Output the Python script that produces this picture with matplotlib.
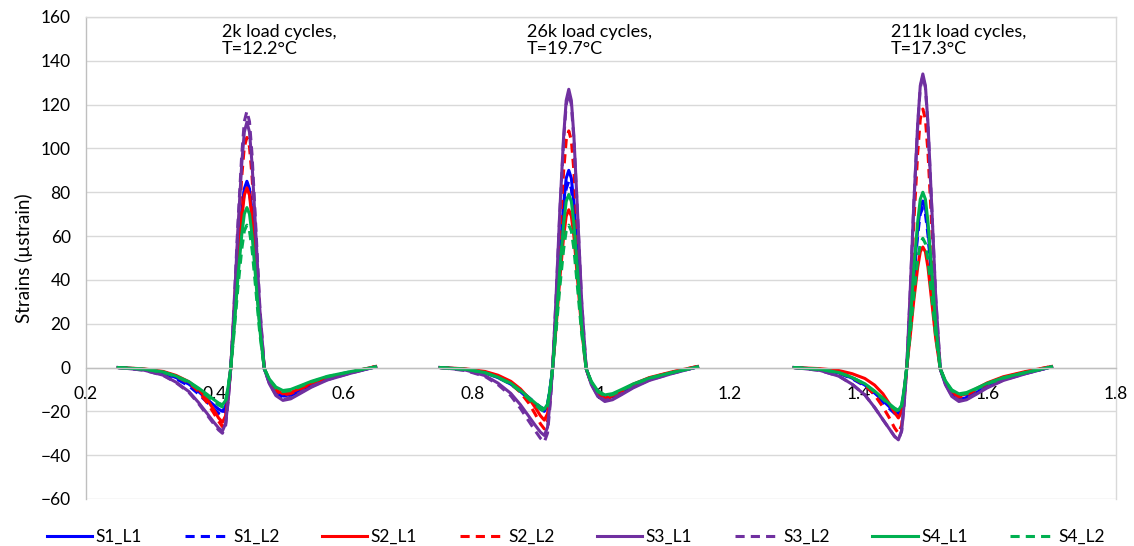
import numpy as np
import matplotlib
matplotlib.use("Agg")
import matplotlib.pyplot as plt

plt.rcParams['font.family'] = ['Lato', 'DejaVu Sans']

# time offsets (s) around each wheel pass, shared by all gauges
t_rel = [-0.200, -0.160, -0.130, -0.110, -0.090, -0.075, -0.062, -0.052,
         -0.044, -0.038, -0.033, -0.029, -0.025, -0.020, -0.014, -0.008,
         -0.004, 0.000, 0.004, 0.008, 0.014, 0.020, 0.027, 0.035,
         0.045, 0.056, 0.068, 0.082, 0.100, 0.125, 0.160, 0.200]

# time of peak for each recorded pass
pass_times = [0.45, 0.95, 1.50]
pass_labels = ["2k load cycles,\nT=12.2°C", "26k load cycles,\nT=19.7°C",
               "211k load cycles,\nT=17.3°C"]
label_x = [0.411, 0.885, 1.450]

series = ["S1_L1", "S1_L2", "S2_L1", "S2_L2", "S3_L1", "S3_L2", "S4_L1", "S4_L2"]

# strains (microstrain) after 2k cycles
strain_2k = {
    "S1_L1": [0, -0.8, -2.4, -4.6, -7.6, -11, -14.4, -17, -19, -20, -17.6, -10, 0, 20.4, 47.6, 70.6, 81.6, 85, 81.6, 70.6, 45.9, 20.4, -0.5, -6.5, -11, -13, -12.4, -10.4, -7.8, -4.9, -2.3, 0.3],
    "S1_L2": [0, -0.9, -2.6, -5.1, -8.4, -12.1, -15.8, -18.7, -20.9, -22, -19.4, -11, 0, 20.2, 47, 69.7, 80.6, 84, 80.6, 69.7, 45.4, 20.2, -0.5, -6.8, -11.5, -13.5, -12.8, -10.8, -8.1, -5.1, -2.4, 0.3],
    "S2_L1": [0, -0.6, -1.8, -3.6, -6.5, -10, -14.5, -19, -23, -25, -22, -12.5, 0, 19.7, 45.9, 68.1, 78.7, 82, 78.7, 68.1, 44.3, 19.7, -0.5, -6, -10.2, -12, -11.4, -9.6, -7.2, -4.6, -2.2, 0.5],
    "S2_L2": [0, -0.7, -2, -4, -7, -11, -16, -20.5, -24.5, -27, -23.8, -13.5, 0, 25.2, 58.8, 87.2, 100.8, 105, 100.8, 87.2, 56.7, 25.2, -0.5, -6.3, -10.6, -12.5, -11.9, -10, -7.5, -4.8, -2.3, 0.5],
    "S3_L1": [0, -1.2, -3.5, -6.7, -11, -16, -20.9, -24.7, -27.6, -29, -25.5, -14.5, 0, 26.9, 62.7, 93, 107.5, 112, 107.5, 93, 60.5, 26.9, -0.5, -7.5, -12.8, -15, -14.3, -12, -9, -5.7, -2.7, 0.3],
    "S3_L2": [0, -1.2, -3.6, -6.9, -11.4, -16.5, -21.6, -25.5, -28.5, -30, -26.4, -15, 0, 28.1, 65.5, 97.1, 112.3, 117, 112.3, 97.1, 63.2, 28.1, -0.5, -7.3, -12.3, -14.5, -13.8, -11.6, -8.7, -5.5, -2.6, 0.3],
    "S4_L1": [0, -0.7, -2, -3.9, -6.5, -9.4, -12.2, -14.5, -16.2, -17, -15, -8.5, 0, 17.5, 40.9, 60.6, 70.1, 73, 70.1, 60.6, 39.4, 17.5, -0.5, -5.3, -8.9, -10.5, -10, -8.4, -6.3, -4, -1.9, 0.3],
    "S4_L2": [0, -0.7, -2.2, -4.1, -6.8, -9.9, -13, -15.3, -17.1, -18, -15.8, -9, 0, 15.6, 36.4, 54, 62.4, 65, 62.4, 54, 35.1, 15.6, -0.5, -5.5, -9.4, -11, -10.5, -8.8, -6.6, -4.2, -2, 0.3],
}

# strains after 26k cycles
strain_26k = {
    "S1_L1": [0, -0.8, -2.4, -4.6, -7.6, -11, -14.4, -17, -19, -20, -17.6, -10, 0, 21.6, 50.4, 74.7, 86.4, 90, 86.4, 74.7, 48.6, 21.6, -0.5, -7, -11.9, -14, -13.3, -11.2, -8.4, -5.3, -2.5, 0.3],
    "S1_L2": [0, -0.8, -2.3, -4.4, -7.2, -10.5, -13.7, -16.2, -18, -19, -16.7, -9.5, 0, 20.4, 47.6, 70.6, 81.6, 85, 81.6, 70.6, 45.9, 20.4, -0.5, -7, -11.9, -14, -13.3, -11.2, -8.4, -5.3, -2.5, 0.3],
    "S2_L1": [0, -0.6, -1.8, -3.5, -6.3, -9.8, -14, -18.3, -22, -24, -21.1, -12, 0, 17.3, 40.3, 59.8, 69.1, 72, 69.1, 59.8, 38.9, 17.3, -0.5, -7, -11.9, -14, -13, -10.5, -7.6, -4.6, -2, 0.5],
    "S2_L2": [0, -0.7, -2.1, -4.1, -7.3, -11.4, -16.3, -21.3, -25.7, -28, -24.6, -14, 0, 25.9, 60.5, 89.6, 103.7, 108, 103.7, 89.6, 58.3, 25.9, -0.5, -7.3, -12.3, -14.5, -13.5, -11, -7.9, -4.8, -2.1, 0.5],
    "S3_L1": [0, -1.2, -3.7, -7.1, -11.8, -17, -22.3, -26.4, -29.5, -31, -27.3, -15.5, 0, 30.5, 71.1, 105.4, 121.9, 127, 121.9, 105.4, 68.6, 30.5, -0.5, -7.8, -13.2, -15.5, -14.7, -12.4, -9.3, -5.9, -2.8, 0.3],
    "S3_L2": [0, -1.4, -4.1, -7.8, -12.9, -18.7, -24.5, -28.9, -32.3, -34, -29.9, -17, 0, 30, 70, 103.8, 120, 125, 120, 103.8, 67.5, 30, -0.5, -7.5, -12.8, -15, -14.3, -12, -9, -5.7, -2.7, 0.3],
    "S4_L1": [0, -0.8, -2.3, -4.4, -7.2, -10.5, -13.7, -16.2, -18, -19, -16.7, -9.5, 0, 19, 44.2, 65.6, 75.8, 79, 75.8, 65.6, 42.7, 19, -0.5, -6.3, -10.6, -12.5, -11.9, -10, -7.5, -4.8, -2.3, 0.3],
    "S4_L2": [0, -0.8, -2.4, -4.6, -7.6, -11, -14.4, -17, -19, -20, -17.6, -10, 0, 15.6, 36.4, 54, 62.4, 65, 62.4, 54, 35.1, 15.6, -0.5, -6.5, -11, -13, -12.4, -10.4, -7.8, -4.9, -2.3, 0.3],
}

# strains after 211k cycles
strain_211k = {
    "S1_L1": [0, -0.8, -2.5, -4.8, -8, -11.6, -15.1, -17.9, -20, -21, -18.5, -10.5, 0, 18.2, 42.6, 63.1, 73, 76, 73, 63.1, 41, 18.2, -0.5, -7.3, -12.3, -14.5, -13.8, -11.6, -8.7, -5.5, -2.6, 0.3],
    "S1_L2": [0, -0.9, -2.6, -5.1, -8.4, -12.1, -15.8, -18.7, -20.9, -22, -19.4, -11, 0, 17.5, 40.9, 60.6, 70.1, 73, 70.1, 60.6, 39.4, 17.5, -0.5, -7, -11.9, -14, -13.3, -11.2, -8.4, -5.3, -2.5, 0.3],
    "S2_L1": [0, -0.5, -1.4, -2.8, -5, -8, -12, -16.5, -20.5, -23, -20.2, -11.5, 0, 13.2, 30.8, 45.7, 52.8, 55, 52.8, 45.7, 29.7, 13.2, -0.5, -6.5, -11, -13, -12, -9.8, -7, -4.2, -1.8, 0.5],
    "S2_L2": [0, -0.8, -2.3, -4.5, -8, -12.5, -18, -23, -27.5, -30, -26.4, -15, 0, 28.3, 66.1, 97.9, 113.3, 118, 113.3, 97.9, 63.7, 28.3, -0.5, -6.8, -11.5, -13.5, -12.6, -10.2, -7.4, -4.5, -2, 0.5],
    "S3_L1": [0, -1.3, -4, -7.6, -12.5, -18.2, -23.8, -28, -31.4, -33, -29, -16.5, 0, 32.2, 75, 111.2, 128.6, 134, 128.6, 111.2, 72.4, 32.2, -0.5, -7.8, -13.2, -15.5, -14.7, -12.4, -9.3, -5.9, -2.8, 0.3],
    "S3_L2": [0, -1.3, -4, -7.6, -12.5, -18.2, -23.8, -28, -31.4, -33, -29, -16.5, 0, 31.9, 74.5, 110.4, 127.7, 133, 127.7, 110.4, 71.8, 31.9, -0.5, -7.5, -12.8, -15, -14.3, -12, -9, -5.7, -2.7, 0.3],
    "S4_L1": [0, -0.8, -2.3, -4.5, -7.4, -10.7, -14, -16.6, -18.5, -19.5, -17.2, -9.8, 0, 19.2, 44.8, 66.4, 76.8, 80, 76.8, 66.4, 43.2, 19.2, -0.5, -6, -10.2, -12, -11.4, -9.6, -7.2, -4.6, -2.2, 0.3],
    "S4_L2": [0, -0.8, -2.4, -4.6, -7.6, -11, -14.4, -17, -19, -20, -17.6, -10, 0, 14.2, 33, 49, 56.6, 59, 56.6, 49, 31.9, 14.2, -0.5, -6.3, -10.6, -12.5, -11.9, -10, -7.5, -4.8, -2.3, 0.3],
}

passes = [strain_2k, strain_26k, strain_211k]

colors = {"S1": "#0000ff", "S2": "#ff0000", "S3": "#7030a0", "S4": "#00b050"}

fig = plt.figure(figsize=(11.34, 5.46), dpi=100)
ax = fig.add_axes([0.0758, 0.0861, 0.9083, 0.8828])

for name in series:
    xs, ys = [], []
    for t0, data in zip(pass_times, passes):
        xs += list(t0 + np.array(t_rel)) + [np.nan]
        ys += data[name] + [np.nan]
    ls = '-' if name.endswith('L1') else (0, (3, 2))
    ax.plot(xs, ys, color=colors[name[:2]], lw=2.2, ls=ls, label=name)

for x, txt in zip(label_x, pass_labels):
    ax.text(x, 157, txt, ha='left', va='top', fontsize=13, linespacing=1.1)

ax.set_xlim(0.2, 1.8)
ax.set_ylim(-60, 160)
ax.set_xticks(np.arange(0.2, 1.81, 0.2))
ax.set_xticklabels(['0.2', '0.4', '0.6', '0.8', '1', '1.2', '1.4', '1.6', '1.8'])
ax.set_yticks(np.arange(-60, 161, 20))
ax.grid(axis='y', color='#d9d9d9', lw=1)
ax.set_axisbelow(True)

ax.spines['bottom'].set_position(('data', 0))
for s in ax.spines.values():
    s.set_color('#bfbfbf')
    s.set_linewidth(1)
ax.spines['top'].set_color('#d9d9d9')
ax.spines['right'].set_color('#d9d9d9')

ax.tick_params(axis='both', length=0, labelsize=12.5)
ax.tick_params(axis='x', pad=13)
ax.tick_params(axis='y', pad=11)
ax.set_ylabel('Strains (µstrain)', fontsize=13.5, labelpad=5)

fig.legend(loc='center', bbox_to_anchor=(0.508, 0.0165), ncol=8, frameon=False,
           fontsize=12.5, handlelength=2.6, handletextpad=0.2, columnspacing=2.45)

fig.savefig('out.png', dpi=100)
